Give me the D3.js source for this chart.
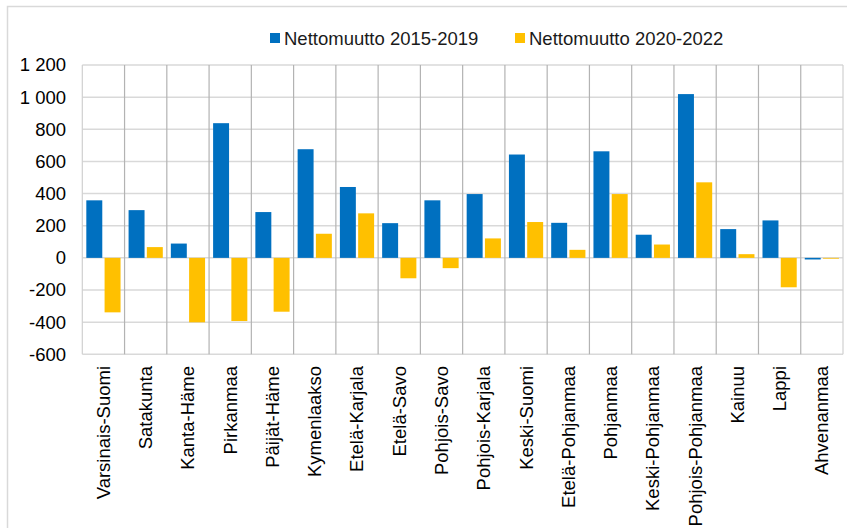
<!DOCTYPE html>
<html>
<head>
<meta charset="utf-8">
<script src="https://cdn.jsdelivr.net/npm/d3@7"></script>
<style>
  body { margin: 0; background: #fff; }
  svg { display: block; font-family: Arial, "Liberation Sans", sans-serif; }
</style>
</head>
<body>
<svg id="chart" width="847" height="528"></svg>
<script>
const regions = ['Varsinais-Suomi', 'Satakunta', 'Kanta-Häme', 'Pirkanmaa', 'Päijät-Häme',
  'Kymenlaakso', 'Etelä-Karjala', 'Etelä-Savo', 'Pohjois-Savo', 'Pohjois-Karjala',
  'Keski-Suomi', 'Etelä-Pohjanmaa', 'Pohjanmaa', 'Keski-Pohjanmaa', 'Pohjois-Pohjanmaa',
  'Kainuu', 'Lappi', 'Ahvenanmaa'];
const net2015_2019 = [358, 297, 89, 838, 285, 676, 441, 216, 358, 397, 643, 218, 663, 144, 1019, 179, 233, -10];
const net2020_2022 = [-339, 67, -401, -393, -335, 150, 277, -127, -64, 121, 223, 50, 397, 83, 470, 23, -183, -5];
const seriesNames = ['Nettomuutto 2015-2019', 'Nettomuutto 2020-2022'];
const seriesColors = ['#0070C0', '#FFC000'];
const yTicks = [-600, -400, -200, 0, 200, 400, 600, 800, 1000, 1200];

const rows = regions.map((name, i) => ({ name, values: [net2015_2019[i], net2020_2022[i]] }));

const svg = d3.select('#chart');
const plotLeft = 82.3, plotRight = 843, plotTop = 65, plotBottom = 354.3;
const fontSize = 18.5;

// outer frame (cropped on right and bottom)
svg.append('path')
  .attr('d', 'M7.5,528 V6.5 H847')
  .attr('fill', 'none')
  .attr('stroke', '#d9d9d9')
  .attr('stroke-width', 1.5);

const x = d3.scaleBand().domain(regions).range([plotLeft, plotRight]);
const x1 = d3.scaleBand().domain([0, 1]).range([0, x.bandwidth()]).paddingInner(0.126).paddingOuter(0.22);
const y = d3.scaleLinear().domain([-600, 1200]).range([plotBottom, plotTop]);

// horizontal gridlines
svg.append('g')
  .selectAll('line')
  .data(yTicks)
  .join('line')
  .attr('x1', plotLeft).attr('x2', plotRight)
  .attr('y1', d => y(d)).attr('y2', d => y(d))
  .attr('stroke', '#d9d9d9')
  .attr('stroke-width', 1.5);

// vertical category separators
const seps = regions.map(c => x(c)).concat([plotRight]);
svg.append('g')
  .selectAll('line')
  .data(seps)
  .join('line')
  .attr('x1', d => d).attr('x2', d => d)
  .attr('y1', plotTop).attr('y2', plotBottom)
  .attr('stroke', (d, i) => i === 0 || i === seps.length - 1 ? '#d0d0d0' : '#b3b3b3')
  .attr('stroke-width', 1.2);

// bars
svg.append('g')
  .selectAll('g')
  .data(rows)
  .join('g')
  .attr('transform', d => `translate(${x(d.name)},0)`)
  .selectAll('rect')
  .data(d => d.values.map((v, k) => ({ v, k })))
  .join('rect')
  .attr('x', d => x1(d.k))
  .attr('width', x1.bandwidth())
  .attr('y', d => y(Math.max(0, d.v)))
  .attr('height', d => Math.abs(y(d.v) - y(0)))
  .attr('fill', d => seriesColors[d.k]);

// y tick labels
const fmt = v => d3.format(',')(v).replace(',', ' ').replace('−', '-');
svg.append('g')
  .attr('font-size', fontSize)
  .attr('fill', '#000')
  .selectAll('text')
  .data(yTicks)
  .join('text')
  .attr('x', 66)
  .attr('y', d => y(d))
  .attr('dy', '0.35em')
  .attr('text-anchor', 'end')
  .text(fmt);

// x labels (rotated)
svg.append('g')
  .attr('font-size', fontSize)
  .attr('fill', '#000')
  .selectAll('text')
  .data(regions)
  .join('text')
  .attr('transform', d => `translate(${x(d) + x.bandwidth() / 2},366) rotate(-90)`)
  .attr('dy', '0.35em')
  .attr('text-anchor', 'end')
  .text(d => d);

// legend
const legendX = [270, 515];
const legend = svg.append('g').attr('font-size', fontSize);
seriesNames.forEach((name, i) => {
  legend.append('rect')
    .attr('x', legendX[i]).attr('y', 33)
    .attr('width', 10).attr('height', 10)
    .attr('fill', seriesColors[i]);
  legend.append('text')
    .attr('x', legendX[i] + 14).attr('y', 44.5)
    .attr('fill', '#1a1a1a')
    .text(name);
});
</script>
</body>
</html>
